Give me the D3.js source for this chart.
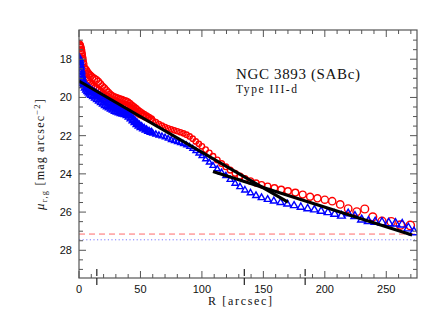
<!DOCTYPE html>
<html><head><meta charset="utf-8">
<script src="https://cdn.jsdelivr.net/npm/d3@7"></script>
<style>body{margin:0;background:#fff;} svg{display:block;}</style>
</head><body>
<svg id="c" width="430" height="333"></svg>
<script>
// ---- data ----
const rR = [0.25,0.5,0.75,1,1.25,1.5,1.75,2,2.25,2.5,2.75,3,3.5,4,4.5,5,5.5,6,6.5,7,7.5,8,8.5,9,9.5,10,10.8,11.6,12.4,13.2,14,14.8,15.6,16.4,17.2,18,18.8,19.6,20.4,21.2,22,22.8,23.6,24.4,25.2,26,26.8,27.6,28.4,29.2,30,30.8,31.6,32.4,33.2,34,34.8,35.6,36.4,37.2,38,38.8,39.6,40.4,41.2,42,42.8,43.6,44.4,45.2,46,46.8,47.6,48.4,49.2,50,51,52,53,54,55,56,57,58,59,60,62.5,65,67.5,70,72.5,75,77.5,80,82.5,85,87.5,90,92.5,95,97.5,100,103,106,109,112.5,116,119.5,123,127,131,135,139.5,144,148.5,153.5,159,164.5,170,176,182,188,194,200,206,212.5,219,226,232.5,239,246.5,254,261.5,269.5];
const rMu = [17.22,17.3,17.28,17.38,17.4,17.5,17.55,17.68,17.75,17.88,17.98,18.1,18.25,18.45,18.5,18.75,18.55,18.95,18.65,19.1,18.75,19.2,18.82,19.28,18.88,19.35,18.95,19.42,19.02,19.5,19.08,19.56,19.18,19.64,19.3,19.72,19.42,19.82,19.52,19.9,19.63,19.98,19.74,20.05,19.84,20.1,19.92,20.16,19.98,20.22,20.02,20.26,20.06,20.3,20.1,20.33,20.13,20.36,20.17,20.39,20.2,20.43,20.25,20.48,20.33,20.53,20.42,20.6,20.5,20.68,20.58,20.76,20.66,20.83,20.74,20.9,20.82,20.96,20.9,21.02,20.97,21.08,21.05,21.15,21.12,21.22,21.3,21.4,21.48,21.55,21.61,21.67,21.72,21.77,21.82,21.88,21.95,22.04,22.16,22.3,22.43,22.56,22.73,22.9,23.08,23.27,23.46,23.63,23.8,23.97,24.12,24.25,24.37,24.48,24.57,24.65,24.74,24.82,24.9,24.98,25.08,25.2,25.28,25.35,25.43,25.6,25.82,25.98,25.84,26.25,26.48,26.5,26.68,26.7];
const gR = [0.25,0.5,0.75,1,1.25,1.5,1.75,2,2.25,2.5,2.75,3,3.5,4,4.5,5,5.5,6,6.5,7,7.5,8,8.5,9,9.5,10,10.8,11.6,12.4,13.2,14,14.8,15.6,16.4,17.2,18,18.8,19.6,20.4,21.2,22,22.8,23.6,24.4,25.2,26,26.8,27.6,28.4,29.2,30,30.8,31.6,32.4,33.2,34,34.8,35.6,36.4,37.2,38,38.8,39.6,40.4,41.2,42,42.8,43.6,44.4,45.2,46,46.8,47.6,48.4,49.2,50,51,52,53,54,55,56,57,58,59,60,62.5,65,67.5,70,72.5,75,77.5,80,82.5,85,87.5,90,92.5,95,97.5,100,103,106,109,112.5,116,119.5,123,127,131,135,139.5,144,148.5,153.5,158.5,164,169.5,175,180.5,186,191.5,197,202.5,208,213.5,219,224.5,230,235.5,241,246.5,252,257.5,263,268,272.5];
const gMu = [17.95,18.05,18.15,18.3,18.4,18.55,18.65,18.8,18.9,19.0,19.08,19.15,19.25,19.35,19.3,19.5,19.38,19.6,19.45,19.68,19.5,19.75,19.56,19.82,19.62,19.88,19.68,19.95,19.74,20.02,19.8,20.1,19.87,20.18,19.95,20.26,20.03,20.34,20.1,20.42,20.18,20.48,20.26,20.54,20.34,20.6,20.42,20.66,20.5,20.72,20.56,20.76,20.62,20.8,20.66,20.84,20.7,20.87,20.74,20.9,20.78,20.95,20.84,21.02,20.93,21.12,21.05,21.22,21.15,21.32,21.25,21.42,21.35,21.5,21.44,21.58,21.52,21.65,21.6,21.72,21.68,21.78,21.75,21.84,21.8,21.88,21.93,21.98,22.03,22.08,22.15,22.22,22.28,22.33,22.38,22.43,22.5,22.58,22.68,22.8,22.93,23.06,23.23,23.4,23.57,23.75,23.93,24.1,24.3,24.5,24.68,24.85,25.0,25.14,25.25,25.34,25.42,25.5,25.58,25.66,25.74,25.82,25.88,25.95,26.02,26.1,26.2,26.08,26.22,26.4,26.48,26.52,26.55,26.58,26.6,26.65,26.85,27.05];
// fitted disc segments [R0, mu0, R1, mu1]
const fitInner = [0, 19.14, 170, 25.48];
const fitOuter = [109, 23.88, 271, 27.2];
const breakRadii = [14.5, 134.5, 184];
const skyR = 27.15, skyG = 27.45;
const xTicks = [0,50,100,150,200,250];
const yTicks = [18,20,22,24,26,28];
const title = "NGC 3893 (SABc)", subtitle = "Type III-d";

// ---- layout ----
const L = 79, R = 417, T = 30, B = 278;
const svg = d3.select("#c");
const x = d3.scaleLinear().domain([0, 275]).range([L, R]);
const y = d3.scaleLinear().domain([16.47, 29.45]).range([T, B]);
const axisCol = "#555";

svg.append("defs").append("clipPath").attr("id","cp").append("rect")
  .attr("x",L).attr("y",T).attr("width",R-L).attr("height",B-T);
const g = svg.append("g").attr("clip-path","url(#cp)");

// sky lines
g.append("line").attr("x1",L).attr("x2",R).attr("y1",y(skyR)).attr("y2",y(skyR))
  .attr("stroke","#ff6a6a").attr("stroke-width",1).attr("stroke-dasharray","6,4");
g.append("line").attr("x1",L).attr("x2",R).attr("y1",y(skyG)).attr("y2",y(skyG))
  .attr("stroke","#7878ff").attr("stroke-width",1).attr("stroke-dasharray","1.2,2.4");

const red = rR.map((r,i)=>({r, m:rMu[i]}));
const blue = gR.map((r,i)=>({r, m:gMu[i]}));
const size = d3.scaleLinear().domain([0,45,70,100,270]).range([3.6,3.3,2.6,2.7,4.2]).clamp(true);
g.selectAll("circle.r").data(red).join("circle")
  .attr("cx",d=>x(d.r)).attr("cy",d=>y(d.m)).attr("r",d=>size(d.r))
  .attr("fill","none").attr("stroke","#ff0000").attr("stroke-width",1.4);
const tri = d3.symbol().type(d3.symbolTriangle);
g.selectAll("path.b").data(blue).join("path")
  .attr("transform",d=>`translate(${x(d.r)},${y(d.m)})`)
  .attr("d",d=>tri.size(Math.pow(size(d.r)*2.1,2)*0.43)())
  .attr("fill","none").attr("stroke","#0000ff").attr("stroke-width",1.4);

// fits
[fitInner, fitOuter].forEach(f=>{
  g.append("line").attr("x1",x(f[0])).attr("y1",y(f[1])).attr("x2",x(f[2])).attr("y2",y(f[3]))
   .attr("stroke","#000").attr("stroke-width",3.2);
});

// frame and ticks
const ax = svg.append("g");
ax.append("rect").attr("x",L).attr("y",T).attr("width",R-L).attr("height",B-T)
  .attr("fill","none").attr("stroke",axisCol).attr("stroke-width",1.2);
d3.range(0, 276, 10).forEach(v=>{
  const len = v%50===0 ? 7 : 4;
  ax.append("line").attr("x1",x(v)).attr("x2",x(v)).attr("y1",B).attr("y2",B-len).attr("stroke",axisCol);
  ax.append("line").attr("x1",x(v)).attr("x2",x(v)).attr("y1",T).attr("y2",T+len).attr("stroke",axisCol);
});
d3.range(17, 29.01, 0.5).forEach(v=>{
  const len = Math.abs(v%2)<1e-6 ? 7 : 4;
  ax.append("line").attr("y1",y(v)).attr("y2",y(v)).attr("x1",L).attr("x2",L+len).attr("stroke",axisCol);
  ax.append("line").attr("y1",y(v)).attr("y2",y(v)).attr("x1",R).attr("x2",R-len).attr("stroke",axisCol);
});
const sans = "Liberation Sans, Arial, sans-serif";
xTicks.forEach(v=>{
  ax.append("text").attr("x",x(v)).attr("y",B+15).attr("text-anchor","middle")
    .attr("font-family",sans).attr("font-size",11).attr("fill","#111").text(v);
});
yTicks.forEach(v=>{
  ax.append("text").attr("x",L-7).attr("y",y(v)+4).attr("text-anchor","end")
    .attr("font-family",sans).attr("font-size",11).attr("fill","#111").text(v);
});
// break markers
breakRadii.forEach(v=>{
  ax.append("line").attr("x1",x(v)).attr("x2",x(v)).attr("y1",B-9).attr("y2",B+7)
    .attr("stroke","#222").attr("stroke-width",1.2).attr("stroke-dasharray","7,2");
});

// labels
const serif = "Liberation Serif, DejaVu Serif, serif";
svg.append("text").attr("x",208).attr("y",305)
  .attr("font-family",serif).attr("font-size",12).attr("fill","#111")
  .attr("textLength",64).attr("lengthAdjust","spacing").text("R [arcsec]");
const yl = svg.append("text").attr("transform",`translate(44,${(T+B)/2}) rotate(-90)`)
  .attr("text-anchor","middle").attr("font-family",serif).attr("font-size",12)
  .attr("letter-spacing",1.2).attr("fill","#111");
yl.append("tspan").attr("font-style","italic").attr("font-size",13).text("μ");
yl.append("tspan").attr("font-size",8.5).attr("dy",3).text("r,g");
yl.append("tspan").attr("dy",-3).text(" [mag arcsec");
yl.append("tspan").attr("font-size",8.5).attr("dy",-4).text("−2");
yl.append("tspan").attr("dy",4).text("]");

svg.append("text").attr("x",236).attr("y",79).attr("font-family",serif).attr("font-size",15)
  .attr("fill","#111").attr("textLength",124).attr("lengthAdjust","spacing").text(title);
svg.append("text").attr("x",236).attr("y",93).attr("font-family",serif).attr("font-size",11.5)
  .attr("fill","#111").attr("textLength",61).attr("lengthAdjust","spacing").text(subtitle);
</script>
</body></html>
